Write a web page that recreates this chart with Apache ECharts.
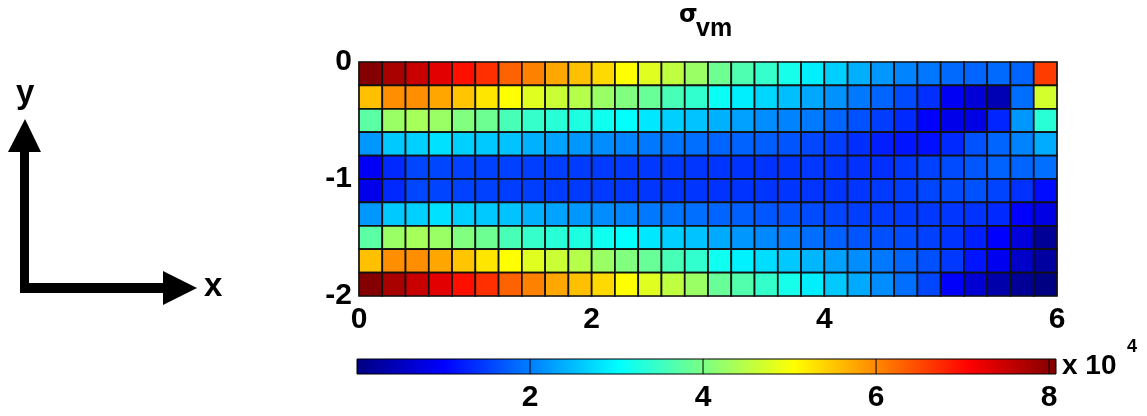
<!DOCTYPE html>
<html><head><meta charset="utf-8">
<script src="https://cdn.jsdelivr.net/npm/echarts@6/dist/echarts.min.js"></script>
<style>html,body{margin:0;padding:0;background:#fff}#c{width:1147px;height:416px}</style>
</head><body><div id="c"></div>
<script>
// Column left edges (x) and row top edges (y) of the mesh cells
const xCols = [0,0.2,0.4,0.6,0.8,1.0,1.2,1.4,1.6,1.8,2.0,2.2,2.4,2.6,2.8,3.0,3.2,3.4,3.6,3.8,4.0,4.2,4.4,4.6,4.8,5.0,5.2,5.4,5.6,5.8];
const yRows = [0,-0.2,-0.4,-0.6,-0.8,-1.0,-1.2,-1.4,-1.6,-1.8];
const cellW = 0.2, cellH = 0.2;

// von Mises stress (x 10^4), one array per row, top (y=0) to bottom (y=-2)
const row0 = [8.05,7.75,7.5,7.3,6.95,6.7,6.3,6.05,5.75,5.55,5.35,5.05,4.8,4.55,4.25,3.9,3.65,3.45,3.2,2.9,2.65,2.4,2.2,2.05,1.95,1.85,1.8,1.85,1.8,6.6];
const row1 = [5.55,5.95,5.95,5.75,5.5,5.25,5.05,4.8,4.63,4.46,4.25,4.05,3.85,3.6,3.42,3.1,2.9,2.71,2.52,2.33,2.16,1.96,1.8,1.6,1.38,0.93,0.69,0.41,1.88,4.7];
const row2 = [3.75,4.25,4.35,4.25,4.05,3.9,3.6,3.45,3.35,3.25,3.15,3.04,2.85,2.66,2.55,2.41,2.28,2.12,2.04,1.97,1.8,1.65,1.49,1.33,1.01,0.85,0.8,1.3,2.2,3.35];
const row3 = [2.2,2.6,2.66,2.78,2.66,2.6,2.55,2.41,2.3,2.2,2.12,2.04,1.96,1.92,1.88,1.8,1.78,1.75,1.68,1.57,1.49,1.37,1.25,1.17,1.13,1.33,1.65,1.8,2.04,2.37];
const row4 = [0.95,1.33,1.56,1.56,1.53,1.52,1.52,1.5,1.5,1.48,1.47,1.46,1.45,1.45,1.44,1.42,1.41,1.41,1.43,1.45,1.43,1.4,1.38,1.45,1.52,1.6,1.7,1.78,1.8,1.88];
const row5 = [0.85,1.33,1.56,1.55,1.53,1.52,1.5,1.5,1.48,1.47,1.46,1.45,1.44,1.43,1.42,1.41,1.41,1.42,1.42,1.43,1.43,1.44,1.47,1.5,1.56,1.6,1.65,1.55,1.4,1.1];
const row6 = [2.2,2.6,2.66,2.78,2.66,2.6,2.55,2.41,2.3,2.2,2.12,2.04,1.96,1.92,1.88,1.8,1.76,1.7,1.65,1.6,1.55,1.5,1.48,1.46,1.45,1.44,1.41,1.33,1.01,0.8];
const row7 = [3.75,4.25,4.35,4.25,4.05,3.9,3.6,3.45,3.35,3.25,3.15,3.04,2.85,2.66,2.55,2.36,2.2,2.08,2.0,1.88,1.76,1.68,1.64,1.6,1.52,1.41,1.25,1.0,0.73,0.18];
const row8 = [5.55,5.95,5.95,5.75,5.5,5.25,5.05,4.8,4.63,4.46,4.25,4.05,3.85,3.6,3.42,3.15,2.92,2.77,2.6,2.45,2.28,2.12,1.96,1.8,1.64,1.45,1.17,0.89,0.57,0.26];
const row9 = [8.05,7.75,7.5,7.3,6.95,6.7,6.3,6.05,5.75,5.55,5.35,5.05,4.8,4.55,4.25,3.85,3.68,3.44,3.2,2.9,2.6,2.36,2.12,1.88,1.56,0.98,0.65,0.34,0.18,0.02];
const rows = [row0,row1,row2,row3,row4,row5,row6,row7,row8,row9];

const xTicks = [0,2,4,6];
const yTicks = [0,-1,-2];
const cbTicks = [2,4,6,8];
const cRange = [0, 8.08];

const jet = ['#000080','#0000ff','#0080ff','#00ffff','#80ff80','#ffff00','#ff8000','#ff0000','#800000'];

const cellData = [];
rows.forEach((r, i) => r.forEach((v, j) => cellData.push([xCols[j], yRows[i], v])));

const labelFont = {color:'#000', fontWeight:'bold', fontSize:30, fontFamily:'"Liberation Sans Narrow","Liberation Sans",Arial,sans-serif'};

const chart = echarts.init(document.getElementById('c'), null, {renderer:'canvas'});
chart.setOption({
  animation:false,
  backgroundColor:'#fff',
  grid:[
    {left:359, top:62, width:698, height:234, show:true, borderColor:'#999', borderWidth:1},
    {left:357, top:359, width:699, height:15, show:false}
  ],
  xAxis:[
    {gridIndex:0, type:'value', min:0, max:6, interval:2,
     axisLine:{show:false}, axisTick:{show:false}, splitLine:{show:false},
     axisLabel:Object.assign({margin:9}, labelFont)},
    {gridIndex:1, type:'value', min:cRange[0], max:cRange[1], interval:2,
     axisLine:{show:false}, axisTick:{show:false}, splitLine:{show:false},
     axisLabel:Object.assign({margin:9, showMinLabel:false, showMaxLabel:false}, labelFont)}
  ],
  yAxis:[
    {gridIndex:0, type:'value', min:-2, max:0, interval:1,
     axisLine:{show:false}, axisTick:{show:false}, splitLine:{show:false},
     axisLabel:Object.assign({margin:7}, labelFont)},
    {gridIndex:1, type:'value', min:0, max:1, show:false}
  ],
  visualMap:{type:'continuous', show:false, min:cRange[0], max:cRange[1], dimension:2, seriesIndex:0,
    inRange:{color:jet}},
  series:[
    {type:'custom', xAxisIndex:0, yAxisIndex:0, data:cellData, encode:{x:0, y:1},
     renderItem:function(params, api){
       const x0 = api.value(0), y0 = api.value(1);
       const p1 = api.coord([x0, y0]);
       const p2 = api.coord([x0 + cellW, y0 - cellH]);
       return {type:'rect', shape:{x:p1[0], y:p1[1], width:p2[0]-p1[0], height:p2[1]-p1[1]},
         style:{fill:api.visual('color'), stroke:'#111', lineWidth:1.7}};
     }},
    {type:'custom', xAxisIndex:1, yAxisIndex:1, data:[[cRange[0], cRange[1]]], encode:{x:[0,1]},
     renderItem:function(params, api){
       const p1 = api.coord([api.value(0), 1]);
       const p2 = api.coord([api.value(1), 0]);
       const stops = jet.map((c, k) => ({offset:k/(jet.length-1), color:c}));
       const children = [{type:'rect', shape:{x:p1[0], y:p1[1], width:p2[0]-p1[0], height:p2[1]-p1[1]},
         style:{fill:new echarts.graphic.LinearGradient(0,0,1,0,stops), stroke:'#000', lineWidth:1}}];
       cbTicks.forEach(t => {
         const a = api.coord([t, 1]), b = api.coord([t, 0]);
         children.push({type:'line', shape:{x1:a[0], y1:a[1], x2:b[0], y2:b[1]}, style:{stroke:'#000', lineWidth:1}});
       });
       return {type:'group', children:children};
     }}
  ],
  graphic:[
    {type:'text', left:679, top:4, style:{text:'σ', fontSize:24, fontWeight:'bold', fontFamily:'"DejaVu Sans",sans-serif', fill:'#000'}},
    {type:'text', left:696, top:17, style:{text:'vm', fontSize:25, fontWeight:'bold', fontFamily:'"Liberation Sans",Arial,sans-serif', fill:'#000'}},
    {type:'text', left:1062, top:352, style:{text:'x 10', fontSize:28, fontWeight:'bold', fontFamily:'"Liberation Sans",Arial,sans-serif', fill:'#000'}},
    {type:'text', left:1127, top:338, style:{text:'4', fontSize:18, fontWeight:'bold', fontFamily:'"Liberation Sans",Arial,sans-serif', fill:'#000'}},
    {type:'rect', shape:{x:20, y:148, width:9, height:145}, style:{fill:'#000'}},
    {type:'polygon', shape:{points:[[25,119],[8,152],[41,152]]}, style:{fill:'#000'}},
    {type:'rect', shape:{x:20, y:283, width:145, height:10}, style:{fill:'#000'}},
    {type:'polygon', shape:{points:[[197,288],[163,271],[163,305]]}, style:{fill:'#000'}},
    {type:'text', left:16, top:77, style:{text:'y', fontSize:33, fontWeight:'bold', fontFamily:'"Liberation Sans",Arial,sans-serif', fill:'#000'}},
    {type:'text', left:204, top:270, style:{text:'x', fontSize:33, fontWeight:'bold', fontFamily:'"Liberation Sans",Arial,sans-serif', fill:'#000'}}
  ]
});
</script></body></html>
